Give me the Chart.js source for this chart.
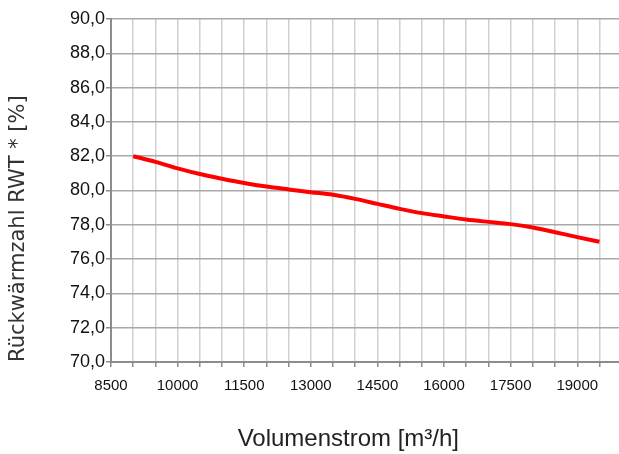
<!DOCTYPE html>
<html>
<head>
<meta charset="utf-8">
<script src="https://cdn.jsdelivr.net/npm/chart.js@4/dist/chart.umd.min.js"></script>
<style>
    html, body { margin: 0; padding: 0; background: #fff; }
    #wrap { width: 619px; height: 454px; }
</style>
</head>
<body>
<div id="wrap"><canvas id="rwtChart" width="619" height="454"></canvas></div>
<script>
const flowRates = [9000, 9500, 10000, 10500, 11000, 11500, 12000, 12500, 13000, 13500, 14000,
    14500, 15000, 15500, 16000, 16500, 17000, 17500, 18000, 18500, 19000, 19500]
const rwtValues = [82.0, 81.67, 81.29, 80.96, 80.69, 80.44, 80.23, 80.06, 79.9, 79.75, 79.51,
    79.22, 78.93, 78.68, 78.49, 78.31, 78.17, 78.04, 77.84, 77.57, 77.28, 77.01]
const xTickValues = [8500, 9000, 9500, 10000, 10500, 11000, 11500, 12000, 12500, 13000, 13500, 14000,
    14500, 15000, 15500, 16000, 16500, 17000, 17500, 18000, 18500, 19000, 19500]
const xTickLabels = ['8500', '10000', '11500', '13000', '14500', '16000', '17500', '19000']

document.addEventListener('DOMContentLoaded', function () {
    const ctx = document.getElementById('rwtChart').getContext('2d')

    new Chart(ctx, {
        type: 'line',
        data: {
            datasets: [{
                data: flowRates.map((x, i) => ({x, y: rwtValues[i]})),
                borderColor: '#ff0000',
                borderWidth: 4,
                pointRadius: 0,
                cubicInterpolationMode: 'monotone',
                fill: false
            }]
        },
        options: {
            responsive: false,
            animation: false,
            layout: {padding: {top: 19, right: 0, left: 0, bottom: 0}},
            plugins: {
                legend: {display: false},
                tooltip: {enabled: false}
            },
            scales: {
                x: {
                    type: 'linear',
                    min: 8500,
                    max: 19940,
                    afterBuildTicks: function (scale) {
                        scale.ticks = xTickValues.map(v => ({value: v}))
                    },
                    afterFit: function (scale) {
                        scale.height = 92
                    },
                    ticks: {
                        autoSkip: false,
                        maxRotation: 0,
                        padding: 10,
                        color: '#111',
                        font: {family: "'Liberation Sans'", size: 15},
                        callback: function (value) {
                            const label = String(value)
                            return xTickLabels.includes(label) ? label : ''
                        }
                    },
                    grid: {
                        color: '#d0d0d0',
                        lineWidth: 1.5,
                        tickLength: 5,
                        tickColor: '#8c8c8c'
                    },
                    border: {color: '#8c8c8c', width: 2},
                    title: {
                        display: true,
                        // trailing spaces nudge the centred title a bit to the left, as in the original
                        text: 'Volumenstrom [m³/h]     ',
                        color: '#222',
                        font: {family: "'Liberation Sans'", size: 24},
                        padding: {top: 0, bottom: 0}
                    }
                },
                y: {
                    min: 70,
                    max: 90,
                    afterFit: function (scale) {
                        scale.width = 111
                    },
                    ticks: {
                        stepSize: 2,
                        padding: 1,
                        color: '#111',
                        font: {family: "'Liberation Sans'", size: 18},
                        callback: function (value) {
                            return value.toFixed(1).replace('.', ',')
                        }
                    },
                    grid: {
                        color: '#a8a8a8',
                        lineWidth: 1.5,
                        tickLength: 5,
                        tickColor: '#8c8c8c'
                    },
                    border: {color: '#8c8c8c', width: 2},
                    title: {
                        display: true,
                        align: 'start',
                        text: 'Rückwärmzahl RWT * [%]',
                        color: '#333',
                        font: {family: "'DejaVu Sans'", size: 21},
                        padding: {top: 6, bottom: 0}
                    }
                }
            }
        }
    })
})
</script>
</body>
</html>
